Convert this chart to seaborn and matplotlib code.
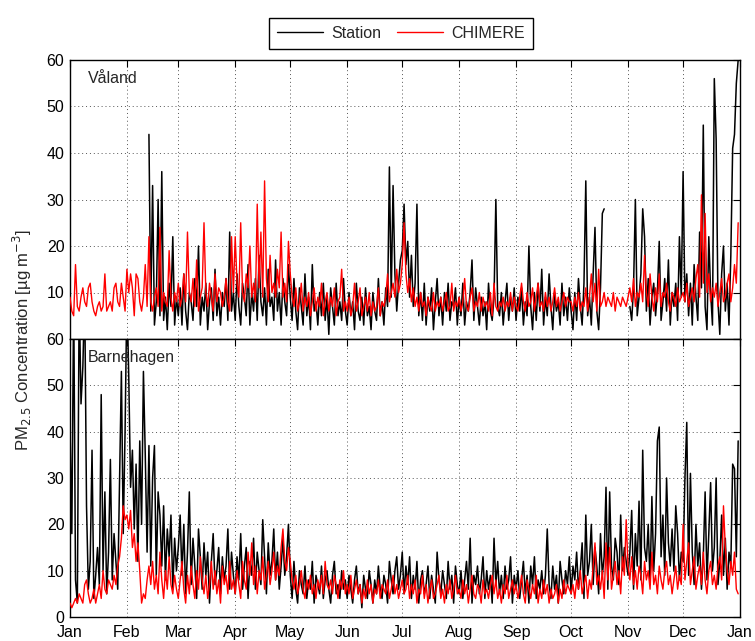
import numpy as np
import pandas as pd
import matplotlib
matplotlib.use("Agg")
import matplotlib.pyplot as plt
import matplotlib.dates as mdates
from matplotlib.lines import Line2D
import seaborn as sns

N = np.nan
# ---------------- data (daily values, µg m-3) ----------------
months = ["Jan", "Feb", "Mar", "Apr", "May", "Jun", "Jul", "Aug", "Sep", "Oct", "Nov", "Dec", "Jan"]

valand_chimere = (
    [9, 6, 5, 16, 7, 6, 9, 11, 8, 7, 11, 12, 8, 6, 5, 7, 8, 6, 7, 14, 6, 7, 8, 6, 11, 12, 8, 7, 12, 9, 6]
    + [15, 10, 14, 11, 5, 14, 13, 8, 6, 9, 16, 7, 22, 8, 6, 9, 11, 7, 24, 6, 10, 8, 7, 19, 9, 6, 10, 8]
    + [12, 7, 9, 14, 8, 23, 10, 8, 13, 7, 17, 6, 9, 11, 25, 10, 7, 12, 9, 6, 14, 8, 11, 10, 7, 9, 13, 8, 6, 22, 10]
    + [22, 12, 9, 25, 10, 8, 14, 11, 20, 9, 12, 8, 29, 11, 23, 9, 34, 13, 8, 18, 10, 12, 9, 15, 11, 23, 9, 12, 8, 21]
    + [14, 9, 7, 11, 6, 8, 12, 6, 9, 7, 10, 5, 8, 11, 6, 9, 7, 12, 5, 8, 10, 6, 9, 7, 11, 5, 8, 9, 15, 6, 8]
    + [6, 9, 5, 7, 12, 6, 8, 11, 5, 7, 9, 6, 10, 5, 8, 6, 7, 11, 5, 8, 7, 9, 14, 8, 10, 12, 9, 15, 10, 12]
    + [16, 25, 14, 10, 13, 8, 11, 7, 9, 6, 10, 7, 8, 5, 9, 7, 6, 10, 6, 8, 7, 9, 6, 8, 10, 6, 7, 12, 6, 8, 7]
    + [9, 6, 8, 13, 7, 6, 9, 11, 6, 8, 7, 10, 6, 9, 7, 8, 6, 10, 5, 12, 7, 6, 8, 7, 9, 6, 8, 7, 10, 6, 9]
    + [7, 6, 9, 12, 8, 6, 10, 7, 8, 11, 6, 9, 12, 7, 8, 6, 10, 7, 9, 6, 8, 11, 7, 9, 6, 8, 10, 7, 9, 8]
    + [8, 6, 9, 7, 10, 6, 8, 7, 11, 6, 9, 14, 8, 12, 6, 15, 7, 8, 10, 7, 9, 8, 7, 10, 6, 9, 8, 7, 9, 8, 7]
    + [9, 11, 8, 13, 7, 10, 9, 12, 8, 18, 10, 7, 14, 9, 6, 11, 8, 14, 7, 10, 9, 12, 8, 6, 10, 9, 7, 11, 8, 9]
    + [10, 8, 12, 7, 9, 11, 8, 13, 16, 9, 31, 12, 27, 10, 14, 8, 11, 9, 12, 7, 10, 13, 8, 9, 12, 14, 8, 11, 16, 12, 25]
)

valand_station = (
    [N] * 31
    + [N] * 12 + [44, 6, 33, 3, 8, 30, 5, 36, 4, 9, 2, 12, 7, 22, 3, 9]
    + [5, 11, 3, 14, 6, 2, 10, 8, 4, 13, 7, 20, 3, 9, 6, 12, 2, 8, 11, 4, 15, 5, 9, 3, 10, 7, 13, 4, 23, 6, 10]
    + [4, 14, 7, 3, 12, 9, 5, 16, 3, 10, 6, 13, 4, 18, 8, 5, 11, 3, 15, 7, 9, 4, 17, 6, 10, 3, 13, 8, 5, 16]
    + [9, 4, 13, 6, 2, 11, 7, 3, 14, 5, 9, 2, 16, 6, 8, 3, 10, 5, 12, 4, 9, 1, 11, 7, 3, 12, 5, 8, 4, 13, 6]
    + [3, 10, 5, 8, 2, 12, 6, 4, 9, 3, 11, 5, 7, 2, 10, 6, 4, 13, 5, 8, 3, 11, 7, 37, 9, 33, 14, 6, 12, 17]
    + [19, 29, 16, 21, 9, 18, 7, 12, 29, 5, 10, 4, 12, 3, 9, 6, 11, 2, 8, 13, 5, 9, 3, 10, 6, 12, 4, 8, 7, 11, 3]
    + [9, 5, 12, 3, 8, 6, 10, 17, 4, 11, 7, 3, 9, 5, 8, 2, 12, 6, 4, 9, 30, 7, 5, 10, 3, 8, 12, 4, 9, 6, 11]
    + [4, 9, 6, 11, 3, 8, 5, 20, 7, 2, 10, 4, 12, 6, 15, 3, 9, 5, 14, 7, 2, 10, 6, 8, 3, 12, 5, 9, 4, 11]
    + [6, 2, 10, 4, 13, 7, 3, 12, 34, 5, 9, 3, 14, 24, 6, 2, 11, 27, 28] + [N] * 12
    + [N, 7, 4, 11, 30, 5, 9, 14, 28, 22, 6, 13, 3, 9, 12, 5, 10, 21, 4, 8, 13, 6, 17, 3, 10, 7, 12, 4, 22, 9]
    + [36, 8, 14, 5, 12, 3, 16, 9, 4, 23, 11, 46, 7, 2, 22, 10, 3, 56, 43, 8, 1, 14, 20, 6, 12, 3, 18, 41, 44, 55, 60]
)

barne_chimere = (
    [3, 2, 3, 4, 3, 5, 4, 3, 7, 8, 5, 3, 4, 6, 3, 5, 7, 4, 10, 6, 5, 8, 7, 6, 9, 7, 11, 13, 17, 24, 21]
    + [22, 19, 23, 15, 18, 12, 16, 10, 3, 5, 4, 8, 11, 7, 12, 6, 9, 5, 14, 8, 4, 10, 6, 13, 7, 5, 9, 6]
    + [4, 8, 12, 6, 3, 9, 5, 11, 7, 4, 10, 6, 13, 8, 5, 9, 4, 7, 12, 6, 10, 5, 8, 3, 11, 7, 9, 5, 12, 6, 8]
    + [5, 10, 7, 4, 12, 8, 6, 14, 9, 16, 7, 11, 5, 10, 8, 13, 6, 9, 12, 7, 10, 14, 8, 11, 9, 15, 19, 12, 10, 15]
    + [12, 8, 6, 9, 5, 7, 10, 6, 4, 8, 6, 9, 5, 7, 4, 8, 6, 9, 5, 12, 7, 6, 8, 5, 9, 7, 4, 8, 6, 10, 5]
    + [7, 5, 9, 4, 6, 8, 5, 7, 3, 6, 4, 8, 5, 7, 3, 6, 5, 8, 4, 7, 6, 5, 8, 4, 6, 9, 5, 7, 4, 6]
    + [8, 5, 6, 9, 4, 7, 5, 8, 3, 6, 5, 9, 4, 7, 3, 6, 8, 4, 5, 7, 9, 4, 6, 3, 7, 5, 8, 4, 6, 9, 5]
    + [6, 4, 8, 5, 7, 3, 6, 9, 5, 4, 7, 6, 3, 8, 5, 6, 4, 7, 9, 5, 8, 4, 6, 3, 7, 5, 9, 4, 6, 8, 5]
    + [7, 4, 6, 9, 5, 3, 8, 6, 4, 7, 5, 9, 3, 6, 4, 8, 5, 7, 3, 6, 4, 5, 7, 3, 6, 4, 8, 5, 7, 6]
    + [5, 7, 4, 8, 6, 10, 5, 7, 9, 4, 8, 6, 11, 16, 7, 9, 6, 10, 4, 16, 8, 15, 6, 9, 12, 7, 10, 5, 13, 9, 21]
    + [11, 8, 13, 7, 10, 6, 11, 9, 5, 12, 8, 10, 6, 14, 7, 9, 5, 11, 8, 6, 10, 12, 7, 9, 5, 8, 11, 6, 9, 7]
    + [20, 8, 12, 16, 7, 10, 13, 6, 9, 11, 7, 14, 8, 5, 10, 12, 7, 9, 6, 11, 13, 8, 24, 15, 10, 7, 12, 9, 14, 6, 5]
)

barne_station = (
    [41, 18, 70, 8, 3, 70, 46, 54, 70, 24, 6, 12, 36, 4, 9, 15, 7, 48, 10, 27, 5, 14, 34, 8, 18, 12, 6, 30, 53, 18, 40]
    + [70, 52, 28, 36, 19, 33, 12, 38, 20, 53, 35, 14, 37, 11, 30, 37, 9, 27, 22, 11, 24, 8, 19, 13, 22, 6, 17, 10]
    + [15, 22, 9, 20, 5, 14, 27, 7, 17, 11, 4, 19, 13, 6, 16, 9, 14, 3, 12, 18, 7, 10, 15, 5, 13, 8, 11, 19, 6, 14, 9]
    + [5, 13, 8, 18, 6, 11, 15, 4, 12, 9, 17, 6, 14, 10, 7, 21, 13, 5, 16, 9, 12, 19, 8, 14, 6, 11, 17, 9, 13, 20]
    + [9, 4, 12, 6, 3, 10, 7, 5, 11, 4, 8, 6, 12, 3, 9, 7, 5, 11, 4, 8, 10, 6, 3, 9, 12, 5, 7, 4, 10, 6, 8]
    + [4, 9, 6, 3, 8, 11, 5, 7, 2, 9, 6, 4, 10, 7, 3, 8, 5, 11, 6, 4, 9, 7, 3, 12, 8, 5, 10, 13, 6, 9]
    + [14, 5, 11, 7, 13, 4, 9, 6, 12, 3, 8, 10, 5, 7, 11, 4, 9, 6, 3, 14, 8, 5, 10, 7, 4, 12, 6, 9, 3, 11, 7]
    + [5, 10, 4, 8, 12, 6, 17, 3, 9, 7, 11, 5, 8, 13, 4, 10, 6, 9, 3, 17, 7, 12, 5, 9, 4, 11, 6, 8, 13, 3, 9]
    + [6, 10, 4, 8, 12, 5, 9, 3, 11, 7, 13, 4, 8, 6, 10, 5, 9, 19, 7, 4, 11, 6, 9, 3, 12, 8, 5, 10, 7, 13]
    + [5, 11, 8, 14, 6, 10, 16, 4, 22, 9, 12, 20, 7, 15, 11, 5, 18, 9, 13, 28, 6, 27, 11, 8, 17, 14, 7, 22, 10, 15, 12]
    + [9, 14, 23, 6, 18, 11, 25, 8, 36, 15, 12, 20, 7, 26, 10, 18, 38, 41, 13, 22, 9, 30, 16, 11, 19, 10, 24, 18, 8, 14]
    + [12, 30, 42, 9, 31, 14, 7, 20, 11, 16, 6, 13, 27, 8, 18, 29, 10, 15, 30, 7, 12, 22, 9, 17, 6, 14, 11, 33, 32, 13, 38]
)

dates = pd.date_range("2013-01-01", periods=365, freq="D")


def to_frame(values):
    df = pd.DataFrame({"date": dates, "val": np.asarray(values, dtype=float)})
    df["seg"] = df["val"].isna().cumsum()
    return df.dropna()


# ---------------- figure ----------------
sns.set_style("white")
plt.rcParams["font.family"] = ["Liberation Sans", "DejaVu Sans"]
plt.rcParams["font.size"] = 11.5

fig = plt.figure(figsize=(7.55, 6.41), dpi=100)
W, H = 755, 641
left, right = 70 / W, 740 / W
ax1 = fig.add_axes([left, 1 - 339 / H, right - left, (339 - 60) / H])
ax2 = fig.add_axes([left, 1 - 617 / H, right - left, (617 - 339) / H])

panels = [
    (ax1, valand_station, valand_chimere, "Våland"),
    (ax2, barne_station, barne_chimere, "Barnehagen"),
]

for ax, st, ch, name in panels:
    sns.lineplot(data=to_frame(st), x="date", y="val", units="seg", estimator=None,
                 color="black", lw=1.1, ax=ax, zorder=2)
    sns.lineplot(data=to_frame(ch), x="date", y="val", units="seg", estimator=None,
                 color="#ff0000", lw=1.0, ax=ax, zorder=3)
    ax.set_xlim(pd.Timestamp("2013-01-01"), pd.Timestamp("2014-01-01"))
    ax.set_ylim(0, 60)
    ax.set_yticks(range(0, 61, 10))
    ax.xaxis.set_major_locator(mdates.MonthLocator())
    ax.xaxis.set_major_formatter(mdates.DateFormatter("%b"))
    ax.grid(True, linestyle=(0, (1, 3)), color="#555555", lw=0.7)
    ax.set_axisbelow(True)
    ax.tick_params(direction="in", length=5, width=0.8, top=True, right=True,
                   labelsize=11.5, colors="black", pad=4)
    ax.tick_params(axis="x", pad=6)
    for sp in ax.spines.values():
        sp.set_visible(True)
        sp.set_color("black")
        sp.set_linewidth(1.0)
    ax.set_xlabel("")
    ax.set_ylabel("")
    ax.text(0.027, 0.935, name, transform=ax.transAxes, fontsize=11.5,
            va="center", ha="left", zorder=5)

ax1.set_xticklabels([])
ax1.set_yticklabels(["", "10", "20", "30", "40", "50", "60"])
ax2.set_xticks(pd.date_range("2013-01-01", "2014-01-01", freq="MS"))
ax2.set_xticklabels(months)

fig.text(0.030, 1 - 340 / H, r"PM$_{2.5}$ Concentration [µg m$^{-3}$]",
         rotation=90, ha="center", va="center", fontsize=12)

handles = [Line2D([], [], color="black", lw=1.0), Line2D([], [], color="#ff0000", lw=1.0)]
leg = fig.legend(handles, ["Station", "CHIMERE"], ncol=2, loc="upper center",
                 bbox_to_anchor=(401 / W, 1 - 10 / H), fancybox=False, framealpha=1,
                 edgecolor="black", handlelength=2.9, columnspacing=1.0,
                 borderpad=0.5, handletextpad=0.5, fontsize=11.5)
leg.get_frame().set_linewidth(1.0)

fig.savefig("out.png", dpi=100)
